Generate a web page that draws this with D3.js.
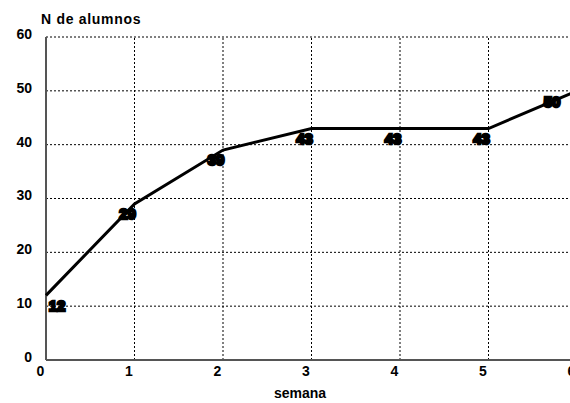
<!DOCTYPE html>
<html>
<head>
<meta charset="utf-8">
<script src="https://cdn.jsdelivr.net/npm/d3@7"></script>
<style>
  body { margin: 0; background: #fff; }
  svg { display: block; font-family: "Liberation Sans", Arial, sans-serif; }
</style>
</head>
<body>
<svg id="chart"></svg>
<script>
const semanas = [0, 1, 2, 3, 4, 5, 6];
const alumnos = [12, 29, 39, 43, 43, 43, 50];
const yTicks = [0, 10, 20, 30, 40, 50, 60];
const xTicks = [0, 1, 2, 3, 4, 5, 6];

const w = 570;
const h = 403;
const margin = { top: 37, left: 46, bottom: 43 };
const plotRight = 577; // the plot runs past the window edge

const svg = d3.select("#chart").attr("width", w).attr("height", h);

const xScale = d3.scaleLinear().domain([0, 6]).range([margin.left, plotRight]);
const yScale = d3.scaleLinear().domain([0, 60]).range([h - margin.bottom, margin.top]);

//grid
svg.append("g")
  .selectAll("line")
  .data(yTicks.slice(1))
  .enter()
  .append("line")
  .attr("x1", margin.left)
  .attr("x2", plotRight)
  .attr("y1", (d) => yScale(d))
  .attr("y2", (d) => yScale(d))
  .attr("stroke", "#000")
  .attr("stroke-width", 1)
  .attr("stroke-dasharray", "2,2");

svg.append("g")
  .selectAll("line")
  .data(xTicks.slice(1))
  .enter()
  .append("line")
  .attr("x1", (d) => xScale(d))
  .attr("x2", (d) => xScale(d))
  .attr("y1", yScale(0))
  .attr("y2", yScale(60))
  .attr("stroke", "#000")
  .attr("stroke-width", 1)
  .attr("stroke-dasharray", "2,2");

//axes lines
svg.append("line")
  .attr("x1", xScale(0)).attr("x2", xScale(0))
  .attr("y1", yScale(0)).attr("y2", yScale(60))
  .attr("stroke", "#555").attr("stroke-width", 2);
svg.append("line")
  .attr("x1", xScale(0)).attr("x2", plotRight)
  .attr("y1", yScale(0)).attr("y2", yScale(0))
  .attr("stroke", "#555").attr("stroke-width", 2);

//tick labels
const yAxis = d3.axisLeft(yScale).tickValues(yTicks).tickFormat(d3.format("d")).tickSize(0).tickPadding(14);
const xAxis = d3.axisBottom(xScale).tickValues(xTicks).tickFormat(d3.format("d")).tickSize(0).tickPadding(6);

const gy = svg.append("g").attr("transform", `translate(${margin.left},-3)`).call(yAxis);
gy.select(".domain").remove();
gy.selectAll("text")
  .style("font-size", "14px")
  .style("font-weight", "bold")
  .attr("fill", "#000");

const gx = svg.append("g").attr("transform", `translate(-6,${yScale(0)})`).call(xAxis);
gx.select(".domain").remove();
gx.selectAll("text")
  .style("font-size", "14px")
  .style("font-weight", "bold")
  .attr("fill", "#000");

//line
const pts = semanas.map((s, i) => [s, alumnos[i]]);
svg.append("path")
  .datum(pts)
  .attr("fill", "none")
  .attr("stroke", "#000")
  .attr("stroke-width", 3)
  .attr("d", d3.line().x((d) => xScale(d[0])).y((d) => yScale(d[1])));

//value labels
svg.append("g")
  .selectAll("text")
  .data(pts)
  .enter()
  .append("text")
  .attr("x", (d) => Math.min(Math.max(xScale(d[0]) - 7, 57), 552))
  .attr("y", (d) => yScale(d[1]) + (d[0] === 6 ? 11 : 10))
  .attr("dy", "0.35em")
  .attr("text-anchor", "middle")
  .style("font-size", "15px")
  .style("font-weight", "bold")
  .attr("fill", "#000")
  .attr("stroke", "#000")
  .attr("stroke-width", 2.5)
  .text((d) => d[1]);

//axis titles
svg.append("text")
  .attr("x", 41).attr("y", 24)
  .style("font-size", "14px")
  .style("font-weight", "bold")
  .style("letter-spacing", "0.7px")
  .text("N de alumnos");

svg.append("text")
  .attr("x", 300).attr("y", 398)
  .attr("text-anchor", "middle")
  .style("font-size", "14px")
  .style("font-weight", "bold")
  .text("semana");
</script>
</body>
</html>
